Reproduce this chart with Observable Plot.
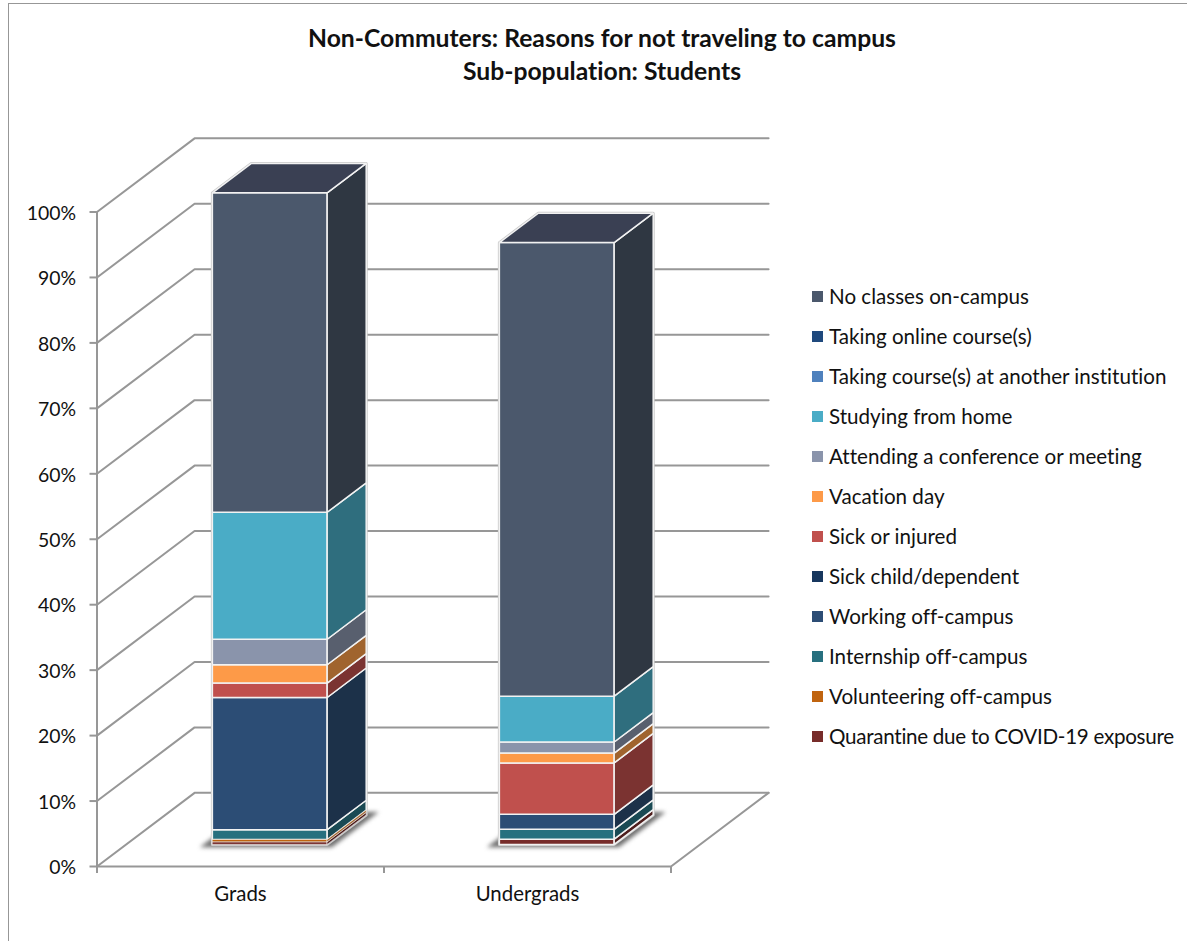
<!DOCTYPE html>
<html>
<head>
<meta charset="utf-8">
<script src="https://cdn.jsdelivr.net/npm/d3@7"></script>
<script src="https://cdn.jsdelivr.net/npm/@observablehq/plot@0.6"></script>
<style>
  html, body { margin: 0; padding: 0; background: #fff; }
  #chart { position: relative; width: 1187px; height: 941px; overflow: hidden; font-family: Lato, sans-serif; color: #111; font-variant-ligatures: none; }
  #frame { position: absolute; left: 7.5px; top: 3px; right: -4px; bottom: -4px; border: 1.6px solid #979797; }
  #title { position: absolute; left: 8px; width: 1188px; top: 21px; text-align: center; font-weight: 700; font-size: 24.7px; line-height: 33px; color: #111; }
  #plot { position: absolute; left: 0; top: 0; }
  #plot svg { font-variant-ligatures: none; }
  #legend { position: absolute; left: 812px; top: 276px; }
  .row { display: flex; align-items: center; height: 40px; font-size: 20.6px; white-space: nowrap; }
  .sw { width: 11px; height: 11px; margin-right: 6px; flex: none; }
</style>
</head>
<body>
<div id="chart">
  <div id="frame"></div>
  <div id="title">Non-Commuters: Reasons for not traveling to campus<br>Sub-population: Students</div>
  <div id="plot"></div>
  <div id="legend"></div>
</div>
<script>
const categories = ["Grads", "Undergrads"];
const seriesNames = [
  "Quarantine due to COVID-19 exposure", "Volunteering off-campus", "Internship off-campus",
  "Working off-campus", "Sick child/dependent", "Sick or injured", "Vacation day",
  "Attending a conference or meeting", "Studying from home", "Taking course(s) at another institution",
  "Taking online course(s)", "No classes on-campus"
];
const gradsValues =      [0.4, 0.35, 1.5, 20.2, 0, 2.2, 2.8, 3.9, 19.4, 0, 0, 48.8];
const undergradsValues = [0.8, 0,    1.5, 2.3,  0, 7.85, 1.5, 1.7, 7.0, 0, 0, 69.3];
const frontColors = ["#772c2a", "#c0640f", "#27707f", "#2c4d75", "#17375e", "#c0504d", "#fd9a48", "#8a94ab", "#4aacc6", "#4f81bd", "#1f497d", "#4b586c"];
const sideColors  = ["#4e1d1c", "#a0642e", "#1a4a54", "#1c3149", "#102540", "#7b3331", "#a0642e", "#585f6e", "#2f6e7e", "#33547b", "#143052", "#2f3742"];
const topColor = "#3a4053";
const yTicks = [0, 10, 20, 30, 40, 50, 60, 70, 80, 90, 100];

// Oblique depth expressed in the units of the two scales
const depthX = 0.34, depthY = 11.25;
const barFront = 0.3, barBack = 0.7, barStart = 0.3, barEnd = 0.7;
const px = (c, d) => c + d * depthX;
const py = (v, d) => v + d * depthY;
const pt = (poly, fill, c, v, d) => ({poly, fill, x: px(c, d), y: py(v, d)});

const polys = [], thinPolys = [], shadows = [], outlines = [];
categories.forEach((cat, i) => {
  const values = i === 0 ? gradsValues : undergradsValues;
  const c0 = i + barStart, c1 = i + barEnd;
  [[c0 - 0.03, 0.26], [c1 + 0.03, 0.26], [c1 + 0.03, 0.74], [c0 - 0.03, 0.74]].forEach(([c, d]) =>
    shadows.push(pt(cat, "#6f6f6f", c, 0, d)));
  let v0 = 0;
  values.forEach((v, s) => {
    if (v <= 0) return;
    const v1 = v0 + v, id = cat + s;
    const target = v < 0.6 ? thinPolys : polys;
    [[c0, v0], [c1, v0], [c1, v1], [c0, v1]].forEach(([c, u]) => target.push(pt(id + "f", frontColors[s], c, u, barFront)));
    [[v0, barFront], [v0, barBack], [v1, barBack], [v1, barFront]].forEach(([u, d]) => target.push(pt(id + "s", sideColors[s], c1, u, d)));
    v0 = v1;
  });
  [[c0, barFront], [c1, barFront], [c1, barBack], [c0, barBack]].forEach(([c, d]) => polys.push(pt(cat + "t", topColor, c, v0, d)));
  [[c0, 0, barFront], [c1, 0, barFront], [c1, 0, barBack], [c1, v0, barBack], [c0, v0, barBack], [c0, v0, barFront]].forEach(([c, u, d]) =>
    outlines.push(pt(cat, "none", c, u, d)));
});

// Walls and floor
const wall = [];
yTicks.forEach(t => {
  wall.push({g: "w" + t, x: 0, y: t}, {g: "w" + t, x: px(0, 1), y: py(t, 1)}, {g: "w" + t, x: px(2, 1), y: py(t, 1)});
});
wall.push({g: "a", x: 0, y: 100}, {g: "a", x: 0, y: 0}, {g: "a", x: 2, y: 0}, {g: "a", x: px(2, 1), y: py(0, 1)});

const gridColor = "#979797";
const plot = Plot.plot({
  width: 1187, height: 941,
  marginLeft: 96.5, marginRight: 516.5, marginTop: 211.5, marginBottom: 75,
  x: {domain: [0, 2], axis: null},
  y: {domain: [0, 100], axis: null},
  style: {background: "transparent", fontFamily: "Lato, sans-serif"},
  marks: [
    Plot.line(wall, {x: "x", y: "y", z: "g", stroke: gridColor, strokeWidth: 2}),
    Plot.axisY(yTicks, {anchor: "left", label: null, tickSize: 7, stroke: gridColor, strokeWidth: 2, tickFormat: () => ""}),
    Plot.axisY(yTicks, {anchor: "left", label: null, tickSize: 0, tickPadding: 21, dy: 1.5,
      tickFormat: d => d + "%", fontSize: 19.4, fill: "#111"}),
    Plot.axisX([0, 1, 2], {anchor: "bottom", label: null, tickSize: 7, stroke: gridColor, strokeWidth: 2, tickFormat: () => ""}),
    Plot.axisX([0.5, 1.5], {anchor: "bottom", label: null, tickSize: 0, tickPadding: 20,
      tickFormat: d => categories[d - 0.5], fontSize: 20.4, fill: "#111"}),
    Plot.line(shadows, {x: "x", y: "y", z: "poly", fill: "fill", curve: "linear-closed", stroke: "none"}),
    Plot.line(outlines, {x: "x", y: "y", z: "poly", stroke: "#c9c9c9", strokeWidth: 3, curve: "linear-closed"}),
    Plot.line(polys, {x: "x", y: "y", z: "poly", fill: "fill", stroke: "#f2f2f2", strokeWidth: 1.5, curve: "linear-closed", strokeLinejoin: "miter"}),
    Plot.line(thinPolys, {x: "x", y: "y", z: "poly", fill: "fill", stroke: "#f2f2f2", strokeWidth: 0.6, curve: "linear-closed", strokeLinejoin: "miter"})
  ]
});
plot.querySelectorAll('g[aria-label="line"]')[1].style.filter = "blur(2px)";
document.getElementById("plot").append(plot);

const legend = document.getElementById("legend");
seriesNames.map((name, s) => ({name, s})).reverse().forEach(({name, s}) => {
  const row = document.createElement("div");
  row.className = "row";
  const sw = document.createElement("span");
  sw.className = "sw";
  sw.style.background = frontColors[s];
  const tx = document.createElement("span");
  tx.textContent = name;
  if (name.includes("COVID")) tx.style.letterSpacing = "-0.28px";
  row.append(sw, tx);
  legend.append(row);
});
</script>
</body>
</html>
